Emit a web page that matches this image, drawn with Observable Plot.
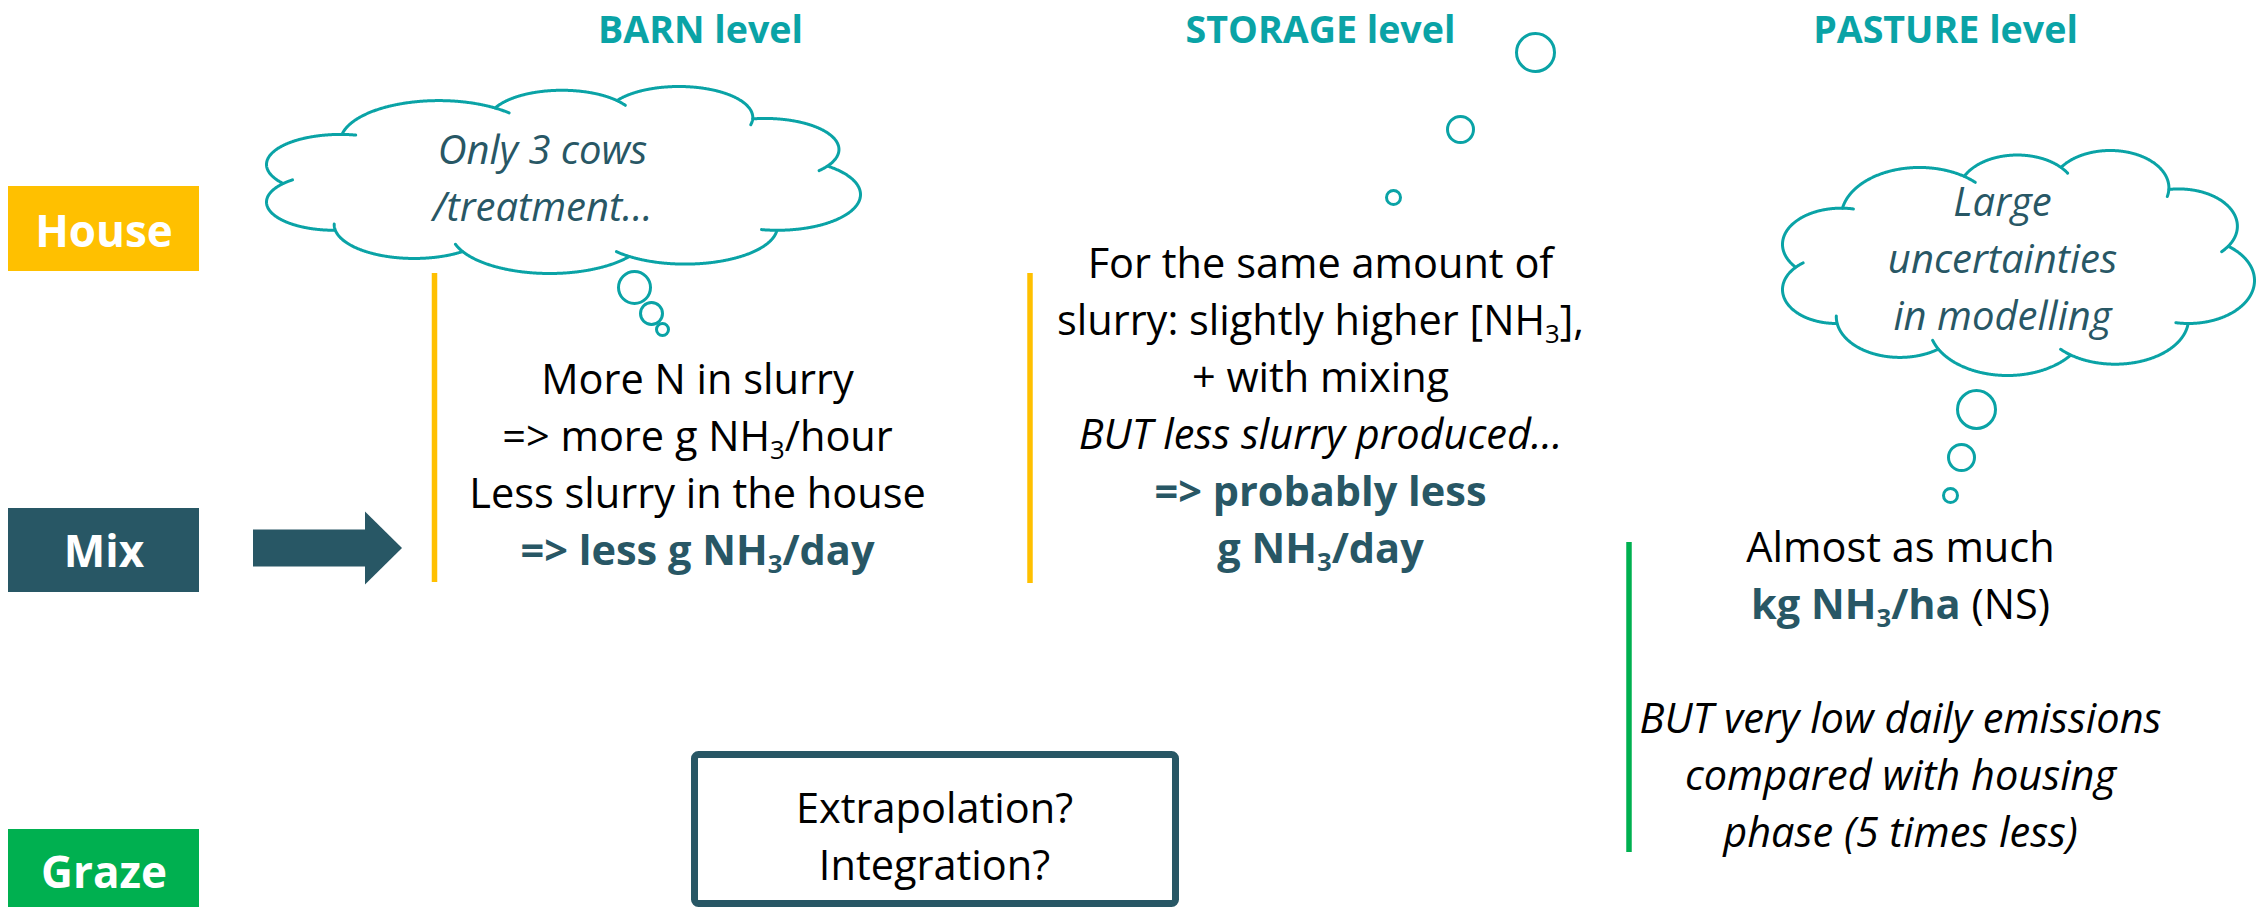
<!DOCTYPE html>
<html><head><meta charset="utf-8">
<script src="https://cdn.jsdelivr.net/npm/d3@7"></script>
<script src="https://cdn.jsdelivr.net/npm/@observablehq/plot@0.6"></script>
<style>html,body{margin:0;padding:0;background:#fff;} svg{display:block}</style>
</head><body><div id="chart"></div>
<script>
// ---------- content ----------
const rowLabels = ["House", "Mix", "Graze"];
const levelTitles = ["BARN level", "STORAGE level", "PASTURE level"];
const barnLines = ["More N in slurry", "=> more g NH_3/hour", "Less slurry in the house", "**=> less g NH_3/day**"];
const storageLines = ["For the same amount of", "slurry: slightly higher [NH_3],", "+ with mixing", "{i}BUT less slurry produced…", "**=> probably less**", "**g NH_3/day**"];
const pastureLines = ["Almost as much", "**kg NH_3/ha** (NS)", "", "{i}BUT very low daily emissions", "{i}compared with housing", "{i}phase (5 times less)"];
const barnThought = ["Only 3 cows", "/treatment…"];
const pastureThought = ["Large", "uncertainties", "in modelling"];
const questionLines = ["Extrapolation?", "Integration?"];

// ---------- layout & style ----------
const W = 2267, H = 907;
const C = {teal: "#0AA3A6", dark: "#285765", yellow: "#FFC000", green: "#00B050", black: "#000000"};
const rowFill = {House: C.yellow, Mix: C.dark, Graze: C.green};
const LH = 57;
const layout = {
  rowBox: {x1: 8, x2: 199, tops: [186, 508, 829], bottoms: [271, 592, 907], baselines: [246, 566, 887]},
  titles: {centers: [700, 1320, 1945], baseline: 42},
  barn: {cx: 697, y0: 393},
  storage: {cx: 1320, y0: 277},
  pasture: {cx: 1900, y0: 561},
  dividers: [{x: 434, y1: 273, y2: 582, c: "yellow"}, {x: 1029.5, y1: 273, y2: 583, c: "yellow"}, {x: 1628.5, y1: 542, y2: 852, c: "green"}],
  arrow: {x1: 253, xHead: 365, x2: 402, y: 548, body: 18.5, head: 36.5},
  cloudBarn: {x1: 266, x2: 860, y1: 86, y2: 273, cx: 542, y0: 163},
  cloudPasture: {x1: 1782, x2: 2254, y1: 150, y2: 375, cx: 2002, y0: 215},
  bubbles: [[634, 287, 16], [651, 313, 11], [662, 329, 6], [1535, 52, 19], [1460, 129, 13], [1393, 197, 7], [1976, 409, 19], [1961, 457, 13], [1950, 495, 7]],
  question: {x1: 694.5, x2: 1175.5, y1: 754.5, y2: 903.5, cx: 934, y0: 822}
};

// ---------- build tables ----------
const rows = rowLabels.map((label, i) => ({label, x1: layout.rowBox.x1, x2: layout.rowBox.x2,
  y1: layout.rowBox.tops[i], y2: layout.rowBox.bottoms[i], cx: (layout.rowBox.x1 + layout.rowBox.x2) / 2, base: layout.rowBox.baselines[i]}));
const titles = levelTitles.map((t, i) => ({t, x: layout.titles.centers[i], y: layout.titles.baseline}));
const linesAt = (lines, cx, y0) => lines.map((t, i) => ({t, x: cx, y: y0 + i * LH})).filter(d => d.t);
const body = [
  ...linesAt(barnLines, layout.barn.cx, layout.barn.y0),
  ...linesAt(storageLines, layout.storage.cx, layout.storage.y0),
  ...linesAt(pastureLines, layout.pasture.cx, layout.pasture.y0)
];
const thoughts = [
  ...linesAt(barnThought, layout.cloudBarn.cx, layout.cloudBarn.y0),
  ...linesAt(pastureThought, layout.cloudPasture.cx, layout.cloudPasture.y0)
];
const question = linesAt(questionLines, layout.question.cx, layout.question.y0);
const bubbles = layout.bubbles.map(([x, y, r]) => ({x, y, r}));
const dividers = layout.dividers.map(d => ({...d, color: C[d.c]}));
const A = layout.arrow;
const arrowBody = [{x1: A.x1, x2: A.xHead + 1, y1: A.y - A.body, y2: A.y + A.body}];
const arrowHead = [{x: A.xHead, y1: A.y - A.head, y2: A.y + A.head}, {x: A.x2, y1: A.y, y2: A.y}];

// ---------- cloud outline (lobes around a core, normalised then stretched) ----------
const LOBES = [
  [0.30, 0.30, 0.16, 0.22], [0.50, 0.19, 0.12, 0.165], [0.69, 0.17, 0.12, 0.165], [0.83, 0.34, 0.12, 0.165],
  [0.85, 0.58, 0.135, 0.19], [0.70, 0.75, 0.15, 0.20], [0.48, 0.78, 0.16, 0.22], [0.26, 0.74, 0.13, 0.18],
  [0.13, 0.62, 0.11, 0.15], [0.14, 0.42, 0.12, 0.16]
];
const CORE = [0.5, 0.5, 0.36, 0.30];
function inside(e, u, v) { const a = (u - e[0]) / e[2], b = (v - e[1]) / e[3]; return a * a + b * b < 0.9999; }
function cloudPath(box, id) {
  const N = 720, EXT = 22, runs = [];
  LOBES.forEach((Lb, i) => {
    const pts = [];
    for (let k = 0; k < N; k++) {
      const t = 2 * Math.PI * k / N, u = Lb[0] + Lb[2] * Math.cos(t), v = Lb[1] + Lb[3] * Math.sin(t);
      const vis = !inside(CORE, u, v) && !LOBES.some((M, j) => j !== i && inside(M, u, v));
      pts.push({u, v, vis});
    }
    let s = pts.findIndex(p => !p.vis); if (s < 0) s = 0;
    let cur = null;
    for (let m = 0; m <= N; m++) {
      const k = (s + m) % N;
      if (pts[k].vis && m < N) { if (!cur) cur = []; cur.push(k); }
      else if (cur) { runs.push({lobe: i, ks: cur, pts}); cur = null; }
    }
  });
  let umin = Infinity, umax = -Infinity, vmin = Infinity, vmax = -Infinity;
  runs.forEach(r => r.ks.forEach(k => { const p = r.pts[k]; umin = Math.min(umin, p.u); umax = Math.max(umax, p.u); vmin = Math.min(vmin, p.v); vmax = Math.max(vmax, p.v); }));
  const out = [];
  runs.forEach((r, ri) => {
    const last = r.ks[r.ks.length - 1];
    const ks = [...r.ks];
    for (let e = 1; e <= EXT; e++) ks.push((last + e) % N);
    ks.forEach(k => {
      const p = r.pts[k];
      out.push({x: box.x1 + (p.u - umin) / (umax - umin) * (box.x2 - box.x1), y: box.y1 + (p.v - vmin) / (vmax - vmin) * (box.y2 - box.y1), run: id + "-" + ri});
    });
  });
  return out;
}
const clouds = [...cloudPath(layout.cloudBarn, "barn"), ...cloudPath(layout.cloudPasture, "pasture")];

// ---------- plot ----------
const FONT = "'Open Sans', 'Liberation Sans', sans-serif";
const chart = Plot.plot({
  width: W, height: H, margin: 0,
  x: {domain: [0, W], range: [0, W], axis: null},
  y: {domain: [0, H], range: [0, H], axis: null},
  r: {type: "identity"},
  color: {type: "identity"},
  style: {fontFamily: FONT, background: "#fff", overflow: "visible"},
  marks: [
    Plot.rect(rows, {x1: "x1", x2: "x2", y1: "y1", y2: "y2", fill: d => rowFill[d.label]}),
    Plot.text(rows, {x: "cx", y: "base", text: "label", fill: "white", fontWeight: 700, fontSize: 44, lineAnchor: "bottom"}),
    Plot.text(titles, {x: "x", y: "y", text: "t", fill: C.teal, fontWeight: 700, fontSize: 37.6, lineAnchor: "bottom"}),
    Plot.ruleX(dividers, {x: "x", y1: "y1", y2: "y2", stroke: "color", strokeWidth: 5.5}),
    Plot.rect(arrowBody, {x1: "x1", x2: "x2", y1: "y1", y2: "y2", fill: C.dark}),
    Plot.areaY(arrowHead, {x: "x", y1: "y1", y2: "y2", fill: C.dark}),
    Plot.line(clouds, {x: "x", y: "y", z: "run", stroke: C.teal, strokeWidth: 3}),
    Plot.dot(bubbles, {x: "x", y: "y", r: "r", stroke: C.teal, strokeWidth: 3, fill: "none"}),
    Plot.text(body, {x: "x", y: "y", text: "t", fill: C.black, fontSize: 41.5, lineAnchor: "bottom"}),
    Plot.text(thoughts, {x: "x", y: "y", text: "t", fill: C.dark, fontStyle: "italic", fontSize: 40, lineAnchor: "bottom"}),
    Plot.rect([layout.question], {x1: "x1", x2: "x2", y1: "y1", y2: "y2", fill: "white", stroke: C.dark, strokeWidth: 7, rx: 4}),
    Plot.text(question, {x: "x", y: "y", text: "t", fill: C.black, fontSize: 41.5, lineAnchor: "bottom"})
  ]
});
document.getElementById("chart").appendChild(chart);

// ---------- rich text: **bold teal**, _3 subscript, {i} italic ----------
function richify(svg) {
  const NS = "http://www.w3.org/2000/svg";
  const sty = (ts, bold) => { if (bold) { ts.setAttribute("font-weight", "700"); ts.setAttribute("fill", C.dark); } };
  svg.querySelectorAll("text").forEach(t => {
    let s = t.textContent;
    if (!/\*\*|_3|\{i\}/.test(s)) return;
    const fs = parseFloat(getComputedStyle(t).fontSize) || 41.5;
    if (s.startsWith("{i}")) { t.setAttribute("font-style", "italic"); s = s.slice(3); }
    while (t.firstChild) t.removeChild(t.firstChild);
    const shift = fs * 0.2;
    s.split("**").forEach((part, k) => {
      const bold = k % 2 === 1;
      part.split("_3").forEach((seg, j) => {
        if (j > 0) {
          const sub = document.createElementNS(NS, "tspan");
          sub.textContent = "3";
          sub.setAttribute("font-size", (fs * 0.62).toFixed(1));
          sub.setAttribute("dy", shift.toFixed(1));
          sty(sub, bold); t.appendChild(sub);
        }
        if (seg.length) {
          const ts = document.createElementNS(NS, "tspan");
          ts.textContent = seg;
          if (j > 0) ts.setAttribute("dy", (-shift).toFixed(1));
          sty(ts, bold); t.appendChild(ts);
        }
      });
    });
  });
}
richify(chart);
</script>
</body></html>
